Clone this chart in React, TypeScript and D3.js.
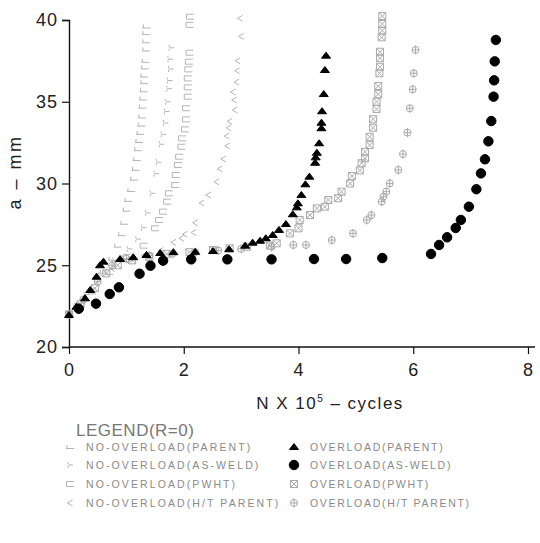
import { useRef, useEffect } from 'react';
import * as d3 from 'd3';

// crack length a (mm) vs N (x 10^5 cycles)
const noOvParent: [number, number][] = [
  [0, 21.9], [0.2, 22.6], [0.4, 23.5], [0.6, 24.6], [0.75, 25.4], [0.85, 26.2], [0.92, 26.9],
  [0.96, 27.6], [1.0, 28.4], [1.03, 29.0], [1.08, 29.6], [1.13, 30.3], [1.16, 30.9], [1.18, 31.5],
  [1.2, 32.1], [1.22, 32.6], [1.24, 33.1], [1.26, 33.6], [1.27, 34.1], [1.28, 34.7], [1.29, 35.2],
  [1.3, 35.7], [1.31, 36.2], [1.31, 36.6], [1.32, 37.1], [1.33, 37.5], [1.34, 38.2], [1.34, 38.7],
  [1.34, 39.2], [1.35, 39.6],
];
const noOvAsWeld: [number, number][] = [
  [0, 22.0], [0.3, 23.2], [0.55, 24.4], [0.8, 25.3], [1.05, 26.0], [1.2, 26.6], [1.3, 27.3],
  [1.37, 28.2], [1.45, 29.4], [1.52, 30.6], [1.56, 31.3], [1.61, 32.4], [1.64, 33.0], [1.68, 33.7],
  [1.7, 34.4], [1.72, 35.0], [1.74, 35.8], [1.75, 36.3], [1.77, 37.0], [1.76, 37.6], [1.78, 38.3],
];
const noOvPwht: [number, number][] = [
  [0, 22.0], [0.15, 22.5], [0.4, 23.4], [0.7, 24.6], [1.0, 25.5], [1.3, 26.2], [1.5, 27.26],
  [1.57, 27.77], [1.64, 28.28], [1.71, 28.89], [1.74, 29.4], [1.85, 29.91], [1.86, 30.52],
  [1.9, 31.13], [1.92, 31.64], [1.96, 32.25], [1.97, 32.76], [2.02, 33.31], [2.04, 33.92],
  [2.04, 34.6], [2.07, 35.31], [2.07, 35.88], [2.07, 36.43], [2.08, 36.98], [2.09, 37.45],
  [2.1, 38.0], [2.1, 39.7], [2.11, 40.2],
];
const noOvHT: [number, number][] = [
  [0, 22.0], [0.25, 22.8], [0.5, 23.9], [0.75, 24.8], [1.0, 25.3], [1.3, 25.6], [1.6, 25.9],
  [1.82, 26.4], [1.96, 26.65], [2.02, 26.9], [2.17, 27.0], [2.2, 27.6], [2.31, 28.8], [2.43, 29.3],
  [2.57, 30.1], [2.63, 30.9], [2.69, 31.5], [2.76, 32.3], [2.75, 32.9], [2.78, 33.4], [2.8, 33.8],
  [2.89, 34.5], [2.88, 35.1], [2.86, 35.6], [2.92, 36.2], [2.93, 36.9], [2.94, 37.5], [3.0, 39.0],
  [2.98, 40.1],
];
const ovParent: [number, number][] = [
  [0, 21.96], [0.13, 22.46], [0.28, 22.98], [0.37, 23.49], [0.48, 24.3], [0.54, 25.0], [0.6, 25.22],
  [0.89, 25.38], [1.12, 25.49], [1.35, 25.63], [1.59, 25.75], [1.82, 25.8], [2.2, 25.82],
  [2.51, 25.87], [2.79, 25.98], [3.07, 26.2], [3.2, 26.38], [3.33, 26.5], [3.43, 26.65],
  [3.55, 26.85], [3.66, 27.16], [3.78, 27.52], [3.9, 28.12], [3.97, 28.54], [3.99, 28.79],
  [4.05, 29.3], [4.12, 29.95], [4.19, 30.42], [4.29, 31.27], [4.3, 31.6], [4.32, 31.88],
  [4.36, 32.46], [4.4, 33.38], [4.4, 33.72], [4.41, 34.42], [4.44, 35.47], [4.46, 36.94], [4.48, 37.82],
];
const ovAsWeld: [number, number][] = [
  [0.17, 22.34], [0.47, 22.65], [0.71, 23.24], [0.87, 23.65], [1.23, 24.48], [1.42, 24.97],
  [1.64, 25.28], [2.13, 25.36], [2.76, 25.36], [3.53, 25.36], [4.27, 25.38], [4.83, 25.38],
  [5.46, 25.44], [6.31, 25.69], [6.45, 26.24], [6.59, 26.71], [6.74, 27.28], [6.83, 27.77],
  [6.97, 28.58], [7.1, 29.65], [7.18, 30.62], [7.25, 31.48], [7.31, 32.58], [7.36, 33.82],
  [7.4, 35.31], [7.41, 36.31], [7.42, 37.47], [7.44, 38.78],
];
const ovPwht: [number, number][] = [
  [0, 22.0], [0.2, 22.6], [0.45, 23.6], [0.65, 24.5], [0.85, 25.0], [1.1, 25.3], [1.4, 25.5],
  [1.7, 25.7], [2.1, 25.8], [2.51, 25.93], [2.8, 26.04], [3.1, 26.13], [3.5, 26.2], [3.62, 26.34],
  [3.85, 26.95], [4.0, 27.26], [4.02, 27.77], [4.2, 28.07], [4.32, 28.48], [4.46, 28.58],
  [4.52, 28.99], [4.69, 29.1], [4.75, 29.5], [4.9, 30.0], [4.93, 30.46], [5.07, 30.8], [5.1, 31.24],
  [5.16, 31.54], [5.16, 31.94], [5.24, 32.35], [5.24, 32.86], [5.3, 33.41], [5.3, 33.93],
  [5.36, 34.56], [5.36, 35.0], [5.39, 35.46], [5.39, 35.96], [5.41, 36.74], [5.42, 37.14],
  [5.42, 37.66], [5.42, 38.06], [5.45, 38.94], [5.46, 39.35], [5.46, 39.76], [5.46, 40.24],
];
const ovHT: [number, number][] = [
  [0, 22.0], [0.25, 22.9], [0.5, 24.0], [0.75, 25.0], [1.0, 25.4], [1.4, 25.6], [1.8, 25.7],
  [2.2, 25.8], [2.6, 25.9], [3.0, 26.0], [3.53, 26.13], [3.91, 26.24], [4.13, 26.24], [4.58, 26.54],
  [4.95, 26.95], [5.19, 27.77], [5.27, 28.07], [5.45, 28.89], [5.48, 29.19], [5.53, 29.5],
  [5.59, 30.01], [5.74, 30.83], [5.82, 31.8], [5.9, 33.11], [5.94, 34.6], [5.99, 35.76],
  [6.01, 36.74], [6.04, 38.17],
];

const xTicks = [0, 2, 4, 6, 8];
const yTicks = [20, 25, 30, 35, 40];

const leftLegend = ['NO-OVERLOAD(PARENT)', 'NO-OVERLOAD(AS-WELD)', 'NO-OVERLOAD(PWHT)', 'NO-OVERLOAD(H/T PARENT)'];
const rightLegend = ['OVERLOAD(PARENT)', 'OVERLOAD(AS-WELD)', 'OVERLOAD(PWHT)', 'OVERLOAD(H/T PARENT)'];

const FAINT = '#b4b4b4';
const FONT = '"Liberation Sans", Arial, sans-serif';

// marker glyphs, centred on 0,0
const glyphs: Record<string, { d: string; fill: string; stroke: string }> = {
  noParent: { d: 'M-4,1.5H4M-3,1.5V-2', fill: 'none', stroke: FAINT },
  noAsWeld: { d: 'M-2,-3V-1M-2,1V3M-2,0H3', fill: 'none', stroke: FAINT },
  noPwht: { d: 'M4,-2.5H-3.5V2.5H4', fill: 'none', stroke: FAINT },
  noHT: { d: 'M2.5,-3L-2.5,0L2.5,3', fill: 'none', stroke: FAINT },
  ovParent: { d: 'M-4.5,2.5L0,-3.5L4.5,2.5Z', fill: '#000', stroke: '#000' },
  ovAsWeld: { d: d3.symbol(d3.symbolCircle, 70)() as string, fill: '#000', stroke: '#000' },
  ovPwht: { d: 'M-3.5,-3.5H3.5V3.5H-3.5ZM-3.5,-3.5L3.5,3.5M3.5,-3.5L-3.5,3.5', fill: 'none', stroke: '#aaa' },
  ovHT: { d: 'M-3.5,0A3.5,3.5 0 1 0 3.5,0A3.5,3.5 0 1 0 -3.5,0M-3.5,0H3.5M0,-4.5V4.5', fill: 'none', stroke: '#aaa' },
};

const seriesList: { key: string; data: [number, number][] }[] = [
  { key: 'noParent', data: noOvParent },
  { key: 'noAsWeld', data: noOvAsWeld },
  { key: 'noPwht', data: noOvPwht },
  { key: 'noHT', data: noOvHT },
  { key: 'ovPwht', data: ovPwht },
  { key: 'ovHT', data: ovHT },
  { key: 'ovParent', data: ovParent },
  { key: 'ovAsWeld', data: ovAsWeld },
];

export default function App() {
  const ref = useRef<SVGSVGElement>(null);

  useEffect(() => {
    const root = d3.select(ref.current);
    root.selectAll('*').remove();

    const x = d3.scaleLinear().domain([0, 8]).range([69, 528]);
    const y = d3.scaleLinear().domain([20, 40]).range([347, 20]);

    // axes
    const yAxis = root.append('g')
      .attr('transform', `translate(${x(0)},0)`)
      .call(d3.axisLeft(y).tickValues(yTicks).tickSize(7).tickPadding(4));
    yAxis.select('.domain').attr('stroke', '#111').attr('stroke-width', 1.4);
    const xAxis = root.append('g')
      .attr('transform', `translate(0,${y(20)})`)
      .call(d3.axisBottom(x).tickValues(xTicks).tickSize(7).tickPadding(9));
    xAxis.select('.domain').attr('d', `M${x(0)},0H535`).attr('stroke', '#111').attr('stroke-width', 1.4);
    root.selectAll('.tick line').attr('stroke', '#111').attr('stroke-width', 1.2);
    root.selectAll('.tick text')
      .attr('font-family', FONT).attr('font-size', 18).attr('fill', '#222')
      .attr('letter-spacing', 1);

    // axis titles
    const xt = root.append('text')
      .attr('x', 330).attr('y', 409).attr('text-anchor', 'middle')
      .attr('font-family', FONT).attr('font-size', 17).attr('fill', '#222')
      .attr('letter-spacing', 1.5);
    xt.append('tspan').text('N  X  10');
    xt.append('tspan').attr('dy', -7).attr('font-size', 10).text('5');
    xt.append('tspan').attr('dy', 7).text('  –  cycles');

    root.append('text')
      .attr('transform', 'translate(21,172) rotate(-90)')
      .attr('text-anchor', 'middle')
      .attr('font-family', FONT).attr('font-size', 18).attr('fill', '#222')
      .attr('letter-spacing', 2.5)
      .text('a  –  mm');

    // points
    seriesList.forEach((s) => {
      const g = glyphs[s.key];
      root.append('g').selectAll('path')
        .data(s.data)
        .enter()
        .append('path')
        .attr('transform', (d) => `translate(${x(d[0])},${y(d[1])})`)
        .attr('d', g.d)
        .attr('fill', g.fill)
        .attr('stroke', g.stroke)
        .attr('stroke-width', 1);
    });

    // legend
    root.append('text')
      .attr('x', 76).attr('y', 436)
      .attr('font-family', FONT).attr('font-size', 17).attr('fill', '#777')
      .attr('letter-spacing', 0.5)
      .text('LEGEND(R=0)');

    const rowsY = [447, 465, 484, 503];
    const leftKeys = ['noParent', 'noAsWeld', 'noPwht', 'noHT'];
    const rightKeys = ['ovParent', 'ovAsWeld', 'ovPwht', 'ovHT'];
    const drawCol = (labels: string[], keys: string[], mx: number, tx: number, ls: number) => {
      labels.forEach((lab, i) => {
        const g = glyphs[keys[i]];
        root.append('path')
          .attr('transform', `translate(${mx},${rowsY[i]})`)
          .attr('d', g.d).attr('fill', g.fill).attr('stroke', g.stroke);
        root.append('text')
          .attr('x', tx).attr('y', rowsY[i] + 4)
          .attr('font-family', FONT).attr('font-size', 10.5).attr('fill', '#8a8a8a')
          .attr('letter-spacing', ls)
          .text(lab);
      });
    };
    drawCol(leftLegend, leftKeys, 70, 86, 2.1);
    drawCol(rightLegend, rightKeys, 294, 310, 1.7);
  }, []);

  return (
    <svg ref={ref} width={540} height={543}
      style={{ position: 'absolute', left: 0, top: 0, background: '#fff' }} />
  );
}
